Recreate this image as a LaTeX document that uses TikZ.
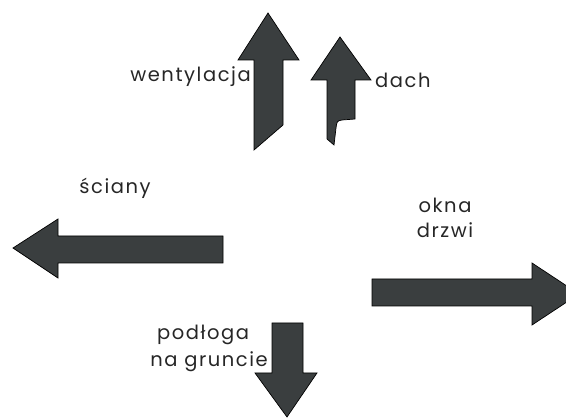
\documentclass[tikz,border=0pt]{standalone}
\usepackage{fontspec}
\setmainfont{Poppins}[LetterSpace=8]
\definecolor{arrowgrey}{HTML}{3A3E3F}

\tikzset{
    flow/.style={fill=arrowgrey, draw=black, line width=0.7pt, line join=miter},
    lbl/.style={font=\fontsize{19.5}{23}\selectfont, inner sep=1pt, text=black!85}
}

\begin{document}
\begin{tikzpicture}[x=1pt, y=-1pt]
    \useasboundingbox (0,0) rectangle (566,419);

    % wentylacja (up)
    \draw[flow] (268,13) -- (299,60) -- (283,60) -- (283,125) -- (254,150)
        -- (254,60) -- (238,60) -- cycle;
    % dach (up, notched foot)
    \draw[flow] (340,37) -- (371,80) -- (355,80) -- (355,119) -- (342,120)
        .. controls (337,121) .. (336,128) -- (334,145) -- (327,139)
        -- (327,80) -- (311,80) -- cycle;
    % sciany (left)
    \draw[flow] (13,248) -- (58,219) -- (58,236) -- (223,236) -- (223,263)
        -- (58,263) -- (58,278) -- cycle;
    % okna, drzwi (right)
    \draw[flow] (372,279) -- (532,279) -- (532,263) -- (579,294) -- (532,325)
        -- (532,306) -- (372,306) -- cycle;
    % podloga (down)
    \draw[flow] (272,323) -- (303,323) -- (303,373) -- (317,373) -- (287,417)
        -- (255,373) -- (272,373) -- cycle;

    \node[lbl, anchor=east] (went) at (252,77) {wentylacja};
    \node[lbl, anchor=west] (dach) at (374,80) {dach};
    \node[lbl] (sciany) at (115,188) {ściany};
    \node[lbl] (okna) at (445,205) {okna};
    \node[lbl] (drzwi) at (445,230) {drzwi};
    \node[lbl] (podloga) at (203,335) {podłoga};
    \node[lbl, anchor=east] (grunt) at (269,362) {na gruncie};
\end{tikzpicture}
\end{document}
